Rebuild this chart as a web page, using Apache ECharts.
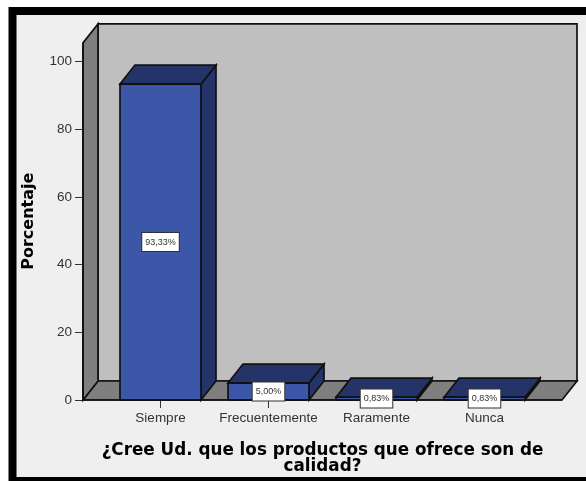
<!DOCTYPE html>
<html><head><meta charset="utf-8">
<style>html,body{margin:0;padding:0;background:#fff}#c{width:586px;height:481px}</style>
<script src="https://cdn.jsdelivr.net/npm/echarts@6/dist/echarts.min.js"></script>
</head><body><div id="c"></div>
<script>
var categories = ['Siempre', 'Frecuentemente', 'Raramente', 'Nunca'];
var values = [93.33, 5.00, 0.83, 0.83];
var valueLabels = ['93,33%', '5,00%', '0,83%', '0,83%'];
var yTicks = [0, 20, 40, 60, 80, 100];
var wallTopValue = 105.5;
var xAxisTitle = '¿Cree Ud. que los productos que ofrece son de\ncalidad?';
var yAxisTitle = 'Porcentaje';

var DX = 15, DY = 19, SIDE = 23.5, BAR_W = 81;
var C = {front:'#3c56a8', dark:'#253468', wall:'#bfbfbf', floor:'#7f7f7f', line:'#111'};

function poly(points, fill, z) {
  return {type:'polygon', z2:z, shape:{points:points}, style:{fill:fill, stroke:C.line, lineWidth:1.7}};
}
function boxRender(params, api) {
  var cs = params.coordSys;
  var x0 = cs.x - SIDE, x1 = cs.x + cs.width + SIDE;
  var yb = api.coord([0, 0])[1], yt = api.coord([0, wallTopValue])[1];
  return {type:'group', silent:true, children:[
    poly([[x0+DX,yt-DY],[x1+DX,yt-DY],[x1+DX,yb-DY],[x0+DX,yb-DY]], C.wall, 1),
    poly([[x0,yb],[x1,yb],[x1+DX,yb-DY],[x0+DX,yb-DY]], C.floor, 2),
    poly([[x0,yt],[x0+DX,yt-DY],[x0+DX,yb-DY],[x0,yb]], C.floor, 3)
  ]};
}
function barRender(params, api) {
  var i = api.value(0), v = api.value(1);
  var p = api.coord([i, v]), b = api.coord([i, 0]);
  var l = p[0] - BAR_W/2, r = p[0] + BAR_W/2, t = p[1], y0 = b[1];
  return {type:'group', children:[
    poly([[r,y0],[r+DX,y0-DY],[r+DX,t-DY],[r,t]], C.dark, 1),
    poly([[l,t],[l+DX,t-DY],[r+DX,t-DY],[r,t]], C.dark, 2),
    poly([[l,t],[r,t],[r,y0],[l,y0]], C.front, 3)
  ]};
}
function labelRender(params, api) {
  var i = api.value(0), v = api.value(1);
  var p = api.coord([i, v]), b = api.coord([i, 0]);
  return {type:'text', silent:true, z2:20, x:p[0], y:(p[1]+b[1])/2, style:{
    text:valueLabels[params.dataIndex], align:'center', verticalAlign:'middle',
    font:'9px "Liberation Sans"', fill:'#333', backgroundColor:'#fff',
    borderColor:'#333', borderWidth:1, padding:[5,3,4,3]
  }};
}
function baseRender(params, api) {
  var cs = params.coordSys;
  var yb = api.coord([0,0])[1], yt = api.coord([0,wallTopValue])[1];
  var x0 = cs.x - SIDE, x1 = cs.x + cs.width + SIDE;
  return {type:'group', silent:true, children:[
    {type:'line', shape:{x1:x0,y1:yb,x2:x1,y2:yb}, style:{stroke:C.line,lineWidth:1.7}},
    {type:'line', shape:{x1:x0,y1:yb,x2:x0,y2:yt}, style:{stroke:C.line,lineWidth:1.7}}
  ]};
}
var barData = categories.map(function(c,i){return [i, values[i]];});

var chart = echarts.init(document.getElementById('c'), null, {renderer:'canvas'});
chart.setOption({
  animation:false,
  backgroundColor:'#fff',
  graphic:[
    {type:'rect', z:-1, shape:{x:12.5,y:11,width:590,height:470}, style:{fill:'#efefef', stroke:'#000', lineWidth:8}}
  ],
  grid:{left:106.5, top:61.5, width:432, height:338.5, containLabel:false, outerBoundsMode:'none'},
  xAxis:{type:'category', data:categories, position:'bottom',
    axisLine:{show:false},
    axisTick:{show:true, alignWithLabel:true, length:8, lineStyle:{color:'#333', width:1}},
    axisLabel:{color:'#333', fontFamily:'Liberation Sans', fontSize:13.5, margin:11, interval:0},
    name:xAxisTitle, nameLocation:'middle', nameGap:43,
    nameTextStyle:{fontFamily:'DejaVu Sans', fontWeight:'bold', fontSize:16.8, lineHeight:16, color:'#000'}
  },
  yAxis:{type:'value', min:yTicks[0], max:yTicks[yTicks.length-1], interval:20, offset:23.5,
    axisLine:{show:false},
    axisTick:{show:true, length:8, lineStyle:{color:'#333', width:1}},
    splitLine:{show:false},
    axisLabel:{color:'#333', fontFamily:'Liberation Sans', fontSize:13.5, margin:11},
    name:yAxisTitle, nameLocation:'middle', nameGap:46, nameRotate:90,
    nameTextStyle:{fontFamily:'DejaVu Sans', fontWeight:'bold', fontSize:16, color:'#000', padding:[0,0,0,19]}
  },
  series:[
    {type:'custom', z:1, clip:false, renderItem:boxRender, data:[[0,0]], silent:true},
    {type:'custom', z:2, clip:false, renderItem:barRender, data:barData},
    {type:'custom', z:4, clip:false, renderItem:baseRender, data:[[0,0]], silent:true},
    {type:'custom', z:10, clip:false, renderItem:labelRender, data:barData}
  ]
});
</script></body></html>
